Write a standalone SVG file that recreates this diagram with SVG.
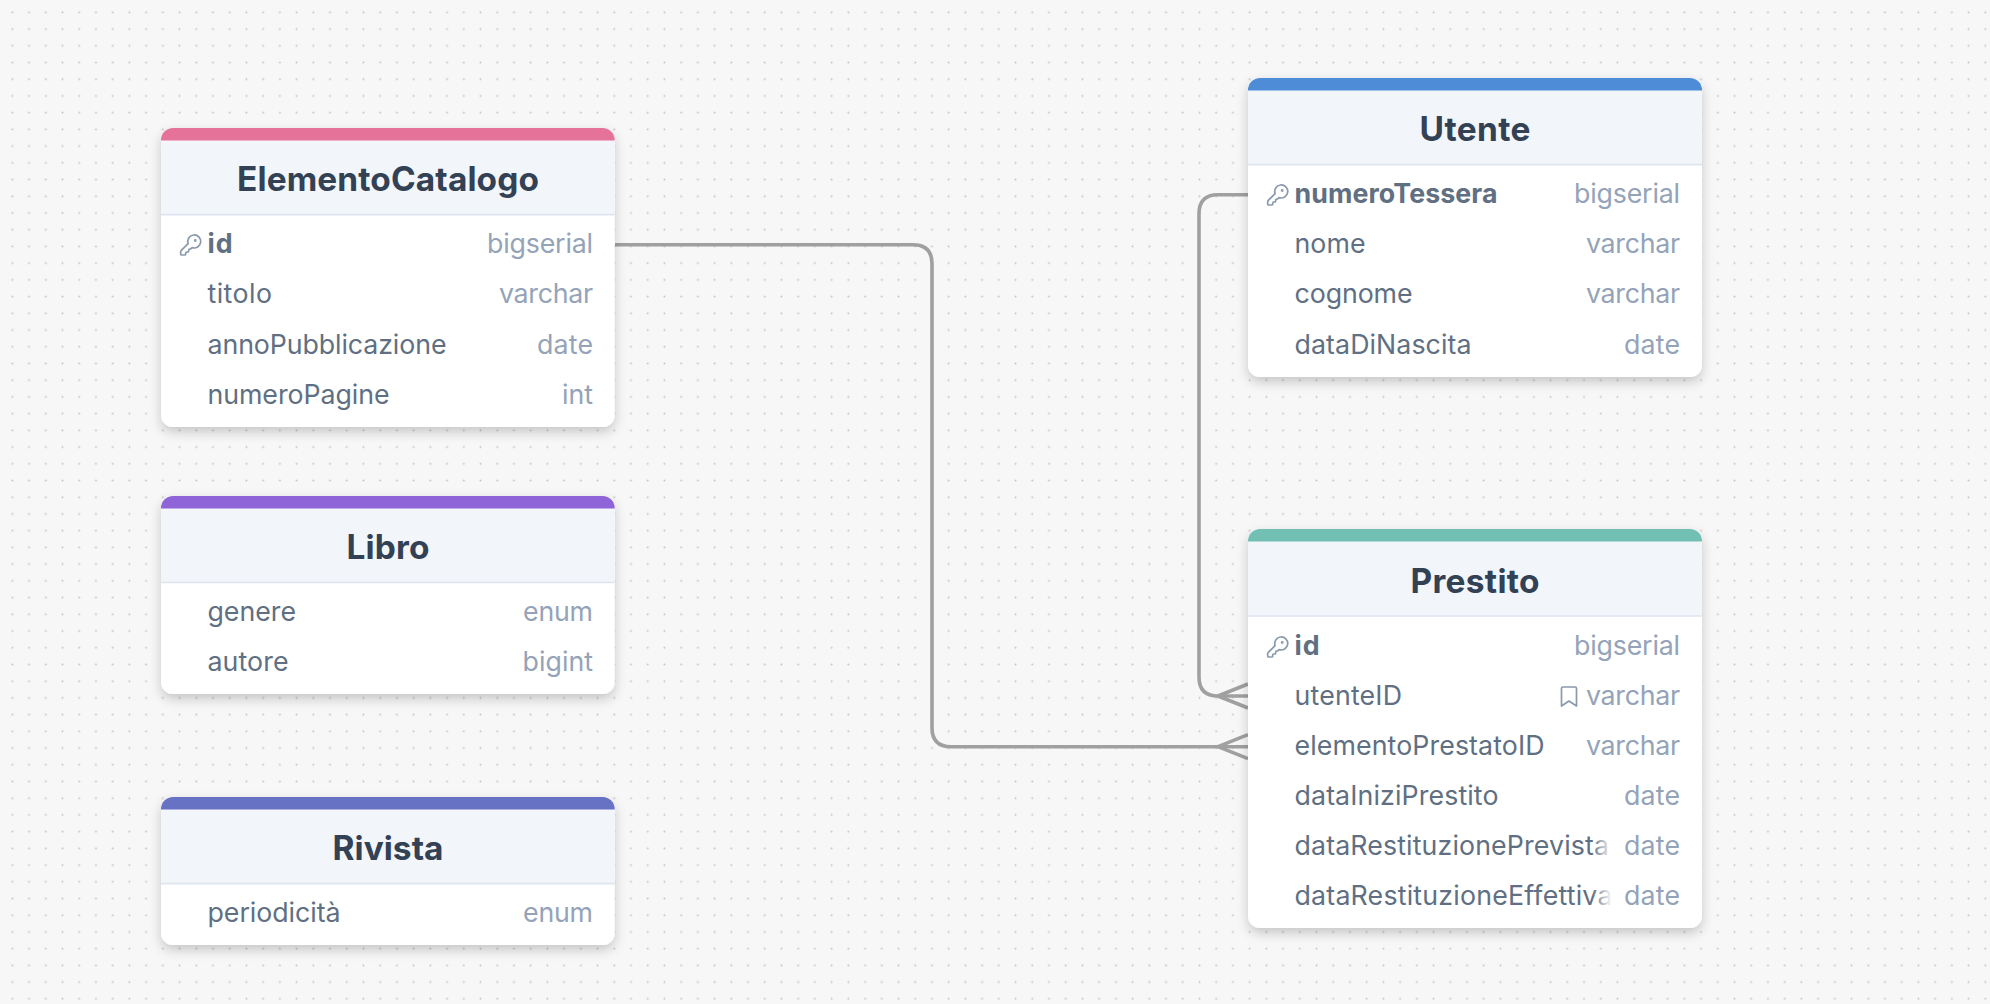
<svg xmlns="http://www.w3.org/2000/svg" width="1990" height="1004" viewBox="0 0 1990 1004">
<style>
text{font-family:Inter,"Liberation Sans",sans-serif}
.t{font-size:33.44px;font-weight:700;fill:#334155;text-anchor:middle;dominant-baseline:central}
.f{font-size:26.75px;fill:#606f82;dominant-baseline:central}
.b{font-weight:700}
.y{font-size:26.75px;fill:#94a3b8;text-anchor:end;dominant-baseline:central}
.c{fill:none;stroke:#a0a0a0;stroke-width:3.6}
.i{fill:none;stroke:#8b99ad;stroke-width:1.7;stroke-linecap:round;stroke-linejoin:round}
.card{fill:#fff;filter:url(#s)}
.h{fill:#f2f5f9}
.l{stroke:#dfe5f0;stroke-width:1.7}
</style>
<defs>
<pattern id="d" x="4" y="4" width="16.72" height="16.72" patternUnits="userSpaceOnUse"><circle cx="8.36" cy="8.36" r="1" fill="#c4c4c4"/></pattern>
<filter id="s" x="-10%" y="-10%" width="120%" height="130%"><feDropShadow dx="0" dy="5" stdDeviation="6" flood-color="#000" flood-opacity=".2"/></filter>
<linearGradient id="fade"><stop offset="0" stop-color="#fff" stop-opacity="0"/><stop offset="1" stop-color="#fff"/></linearGradient>
<symbol id="key" viewBox="0 0 24 24" overflow="visible"><path class="i" d="M2.586 17.414A2 2 0 0 0 2 18.828V21a1 1 0 0 0 1 1h3a1 1 0 0 0 1-1v-1a1 1 0 0 1 1-1h1a1 1 0 0 0 1-1v-1a1 1 0 0 1 1-1h.172a2 2 0 0 0 1.414-.586l.814-.814a6.500 6.500 0 1 0-4-4z"/><circle class="i" cx="16.500" cy="7.500" r=".6"/></symbol>
</defs>
<rect width="1990" height="1004" fill="#f7f7f7"/>
<rect width="1990" height="1004" fill="url(#d)"/>
<g id="connectors">
<path class="c" d="M615 244.700H913q19 0 19 19V727.700q0 19 19 19H1248"/>
<path class="c" d="M1218 746.700L1248 734.700M1218 746.700L1248 758.700"/>
<path class="c" d="M1248 194.700H1218q-19 0-19 19V677q0 19 19 19H1248"/>
<path class="c" d="M1218 696L1248 684M1218 696L1248 708"/>
</g>
<g id="ElementoCatalogo">
<rect class="card" x="161" y="128" width="453.700" height="299" rx="12"/>
<path class="h" d="M161 140H614.700V214.600H161z"/><path fill="#e57399" d="M161 140.600V140a12 12 0 0 1 12-12H602.700a12 12 0 0 1 12 12v.6z"/>
<line class="l" x1="161" x2="614.700" y1="214.600" y2="214.600"/>
<text class="t" x="388" y="179" textLength="302">ElementoCatalogo</text>
<use href="#key" x="178.700" y="233" width="24" height="24"/>
<text class="f b" x="207.500" y="243.300" textLength="25">id</text><text class="y" x="593" y="243.300" textLength="106">bigserial</text>
<text class="f" x="207.500" y="293" textLength="64.500">titolo</text><text class="y" x="593" y="293" textLength="94">varchar</text>
<text class="f" x="207.500" y="343.500" textLength="239">annoPubblicazione</text><text class="y" x="593" y="343.500" textLength="56">date</text>
<text class="f" x="207.500" y="394" textLength="182">numeroPagine</text><text class="y" x="593" y="394" textLength="31">int</text>
</g>
<g id="Libro">
<rect class="card" x="161" y="496" width="453.700" height="198" rx="12"/>
<path class="h" d="M161 508H614.700V582.500H161z"/><path fill="#8f64d9" d="M161 508.500V508a12 12 0 0 1 12-12H602.700a12 12 0 0 1 12 12v.5z"/>
<line class="l" x1="161" x2="614.700" y1="582.500" y2="582.500"/>
<text class="t" x="388" y="547" textLength="83">Libro</text>
<text class="f" x="207.500" y="610.800" textLength="88.500">genere</text><text class="y" x="593" y="610.800" textLength="70">enum</text>
<text class="f" x="207.500" y="660.800" textLength="81">autore</text><text class="y" x="593" y="660.800" textLength="70.500">bigint</text>
</g>
<g id="Rivista">
<rect class="card" x="161" y="797" width="453.700" height="148" rx="12"/>
<path class="h" d="M161 809H614.700V883.700H161z"/><path fill="#6872c4" d="M161 809.500V809a12 12 0 0 1 12-12H602.700a12 12 0 0 1 12 12v.5z"/>
<line class="l" x1="161" x2="614.700" y1="883.700" y2="883.700"/>
<text class="t" x="388" y="848" textLength="111">Rivista</text>
<text class="f" x="207.500" y="912" textLength="133">periodicità</text><text class="y" x="593" y="912" textLength="70">enum</text>
</g>
<g id="Utente">
<rect class="card" x="1248" y="78" width="454" height="299" rx="12"/>
<path class="h" d="M1248 90H1702V164.600H1248z"/><path fill="#4e8cd8" d="M1248 90.400V90a12 12 0 0 1 12-12H1690a12 12 0 0 1 12 12v.4z"/>
<line class="l" x1="1248" x2="1702" y1="164.600" y2="164.600"/>
<text class="t" x="1475" y="129" textLength="111">Utente</text>
<use href="#key" x="1265.700" y="183" width="24" height="24"/>
<text class="f b" x="1294.500" y="193" textLength="203">numeroTessera</text><text class="y" x="1680" y="193" textLength="106">bigserial</text>
<text class="f" x="1294.500" y="243.200" textLength="71">nome</text><text class="y" x="1680" y="243.200" textLength="94">varchar</text>
<text class="f" x="1294.500" y="293" textLength="118">cognome</text><text class="y" x="1680" y="293" textLength="94">varchar</text>
<text class="f" x="1294.500" y="343.500" textLength="177">dataDiNascita</text><text class="y" x="1680" y="343.500" textLength="56">date</text>
</g>
<g id="Prestito">
<rect class="card" x="1248" y="529" width="454" height="399" rx="12"/>
<path class="h" d="M1248 541H1702V616H1248z"/><path fill="#72c0b4" d="M1248 541.600V541a12 12 0 0 1 12-12H1690a12 12 0 0 1 12 12v.6z"/>
<line class="l" x1="1248" x2="1702" y1="616" y2="616"/>
<text class="t" x="1475" y="581" textLength="129">Prestito</text>
<use href="#key" x="1265.700" y="635" width="24" height="24"/>
<text class="f b" x="1294.500" y="644.500" textLength="25">id</text><text class="y" x="1680" y="644.500" textLength="106">bigserial</text>
<text class="f" x="1294.500" y="695" textLength="107.500">utenteID</text>
<path class="i" d="M1561.500 688.500a1.500 1.500 0 0 1 1.500-1.500h12a1.500 1.500 0 0 1 1.500 1.500V706l-7.500-5-7.500 5z"/>
<text class="y" x="1680" y="695" textLength="94">varchar</text>
<text class="f" x="1294.500" y="745" textLength="250">elementoPrestatoID</text><text class="y" x="1680" y="745" textLength="94">varchar</text>
<text class="f" x="1294.500" y="795" textLength="204">dataIniziPrestito</text><text class="y" x="1680" y="795" textLength="56">date</text>
<text class="f" x="1294.500" y="845" textLength="314.500">dataRestituzionePrevista</text>
<text class="f" x="1294.500" y="895" textLength="318">dataRestituzioneEffettiva</text>
<rect x="1592" y="826" width="20" height="90" fill="url(#fade)"/><rect x="1612" y="826" width="8" height="90" fill="#fff"/>
<text class="y" x="1680" y="845" textLength="56">date</text><text class="y" x="1680" y="895" textLength="56">date</text>
</g>
</svg>
